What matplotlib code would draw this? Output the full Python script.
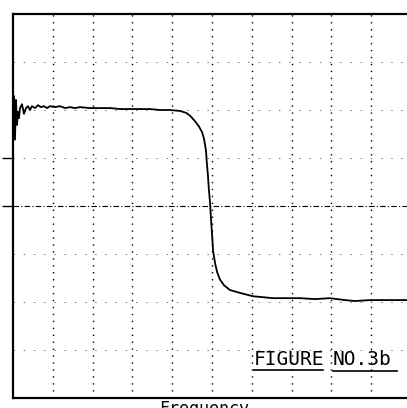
import numpy as np
import matplotlib.pyplot as plt

# screen divisions (10 across, 8 up)
freq = [0.0, 0.025, 0.05, 0.075, 0.10, 0.126, 0.15, 0.176, 0.226, 0.276,
        0.327, 0.377, 0.427, 0.477, 0.553, 0.628, 0.704, 0.779, 0.854, 0.93,
        1.055, 1.18, 1.31, 1.43, 1.56, 1.68, 1.93, 2.19, 2.44, 2.69,
        2.94, 3.19, 3.44, 3.69, 3.94, 4.20, 4.35, 4.45, 4.57, 4.67,
        4.75, 4.80, 4.85, 4.87, 4.90, 4.92, 4.95, 4.97, 5.00, 5.03,
        5.08, 5.13, 5.20, 5.30, 5.45, 5.70, 6.03, 6.53, 7.21, 7.59,
        7.96, 8.34, 8.59, 8.97, 9.35, 9.90]
level = [5.58, 6.29, 5.38, 6.21, 5.69, 5.96, 5.83, 6.04, 6.12, 5.92,
         6.04, 6.08, 6.00, 6.08, 6.04, 6.10, 6.06, 6.08, 6.04, 6.08,
         6.06, 6.08, 6.04, 6.06, 6.04, 6.06, 6.04, 6.04, 6.04, 6.02,
         6.02, 6.02, 6.02, 6.00, 6.00, 5.98, 5.94, 5.88, 5.77, 5.66,
         5.54, 5.40, 5.15, 4.90, 4.62, 4.36, 4.08, 3.80, 3.42, 3.05,
         2.80, 2.62, 2.47, 2.35, 2.25, 2.19, 2.12, 2.08, 2.08, 2.06,
         2.08, 2.04, 2.02, 2.04, 2.04, 2.04]

vgrid = [1, 2, 3, 4, 5, 6, 7, 8, 9]
hgrid = [1, 2, 3, 5, 6, 7]
centre = 4

fig = plt.figure(figsize=(4.07, 4.08), dpi=100)
ax = fig.add_axes([13 / 407, 10 / 408, 394 / 407, 384 / 408])
ax.set_xlim(0, 9.9)
ax.set_ylim(0, 8)

for x in vgrid:
    ax.axvline(x, color="black", lw=1.0, ls=(0, (1, 4)))
for y in hgrid:
    ax.axhline(y, color="0.45", lw=0.7, ls=(0, (1.5, 9)))
ax.axhline(centre, color="black", lw=0.8, ls=(0, (5, 2, 1, 2)))

ax.plot(freq, level, color="black", lw=1.3)

for side in ["top", "left", "bottom"]:
    ax.spines[side].set_linewidth(1.6)
ax.spines["right"].set_visible(False)

ax.set_xticks([])
ax.set_yticks([4, 5])
ax.set_yticklabels([])
ax.tick_params(axis="y", direction="out", length=8, width=1.0)

ax.text(0.612, 0.086, "FIGURE", transform=ax.transAxes, fontsize=14,
        family="DejaVu Sans Mono", ha="left", va="baseline")
ax.text(0.812, 0.086, "NO.3b", transform=ax.transAxes, fontsize=14,
        family="DejaVu Sans Mono", ha="left", va="baseline")
ax.plot([0.612, 0.787], [0.072, 0.072], transform=ax.transAxes,
        color="black", lw=1.2)
ax.plot([0.812, 0.975], [0.070, 0.070], transform=ax.transAxes,
        color="black", lw=1.2)

fig.text(204 / 407, 1 - 400 / 408, "Frequency", fontsize=12,
         family="DejaVu Sans Mono", ha="center", va="top")

fig.savefig("out.png", dpi=100)
